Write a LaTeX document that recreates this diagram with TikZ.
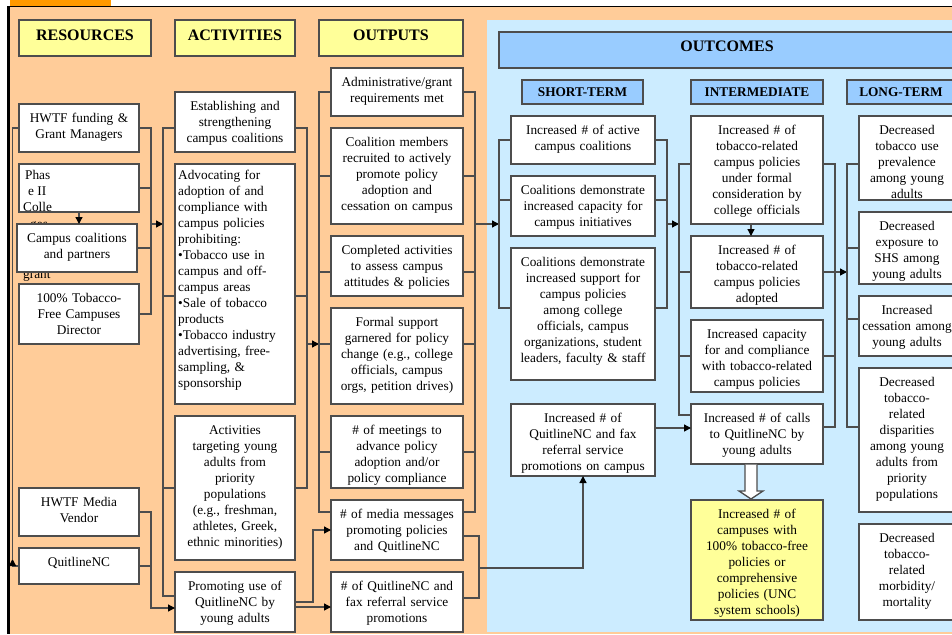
\documentclass[tikz,border=0pt]{standalone}
\usepackage{fontspec}
\setmainfont{Liberation Serif}
\usetikzlibrary{arrows.meta,calc}
\definecolor{peach}{HTML}{FFCC99}
\definecolor{lblue}{HTML}{CCECFF}
\definecolor{yel}{HTML}{FFFF99}
\definecolor{hblue}{HTML}{99CCFF}
\definecolor{orng}{HTML}{FF9900}
\definecolor{lc}{HTML}{4D4D4D}
\newcommand\bx[7][white]{%
 \node[bxst, fill=#1, minimum width={#5-#3}, minimum height={#6-#4}] (#2) at ({(#3+#5)/2},{(#4+#6)/2}) {};
 \node[txst, text width={#5-#3-4}, anchor=north] (#2-t) at ({(#3+#5)/2},{#4+6}) {\rule{0pt}{12pt}#7};}
\begin{document}
\begin{tikzpicture}[x=1pt,y=-1pt,
  bxst/.style={draw=lc, line width=1.3pt, rectangle, inner sep=0pt, outer sep=0pt},
  txst/.style={font=\fontsize{13.3}{16}\selectfont, align=center, inner sep=0pt, text=black},
  hdst/.style={inner sep=0pt, text=black},
  cnst/.style={draw=lc, line width=1.3pt},
  arst/.style={cnst, -{Triangle[length=7pt,width=7pt,color=black]}}]
\useasboundingbox (0,0) rectangle (952,634);
% background
\fill[white] (0,0) rectangle (952,634);
\fill[peach] (10,7) rectangle (952,634);
\fill[orng] (10,0) rectangle (111,6);
\draw[black, line width=1.5pt] (7,6.5) -- (952,6.5);
\draw[black, line width=3pt] (8.5,6) -- (8.5,634);
\fill[lblue] (487,20) rectangle (952,632);

% headers
\node[bxst, fill=yel, minimum width=132, minimum height=36] (resh) at (85,38) {};
\node[hdst, font=\fontsize{16}{18}\selectfont\bfseries] (resh-t) at ($(resh)+(0,-3)$) {RESOURCES};
\node[bxst, fill=yel, minimum width=120, minimum height=36] (acth) at (235,38) {};
\node[hdst, font=\fontsize{16}{18}\selectfont\bfseries] (acth-t) at ($(acth)+(0,-3)$) {ACTIVITIES};
\node[bxst, fill=yel, minimum width=144, minimum height=36] (outh) at (391,38) {};
\node[hdst, font=\fontsize{16}{18}\selectfont\bfseries] (outh-t) at ($(outh)+(0,-3)$) {OUTPUTS};
\node[bxst, fill=hblue, minimum width=456, minimum height=36] (ocmh) at (727,50) {};
\node[hdst, font=\fontsize{16}{18}\selectfont\bfseries] (ocmh-t) at ($(ocmh)+(0,-4)$) {OUTCOMES};
\node[bxst, fill=hblue, minimum width=121, minimum height=24] (sth) at (582.5,92) {};
\node[hdst, font=\fontsize{13.3}{16}\selectfont\bfseries] (sth-t) at (sth) {SHORT-TERM};
\node[bxst, fill=hblue, minimum width=132, minimum height=24] (imh) at (757,92) {};
\node[hdst, font=\fontsize{13.3}{16}\selectfont\bfseries] (imh-t) at (imh) {INTERMEDIATE};
\node[bxst, fill=hblue, minimum width=108, minimum height=24] (lth) at (901,92) {};
\node[hdst, font=\fontsize{13.3}{16}\selectfont\bfseries] (lth-t) at (lth) {LONG-TERM};

% resources
\bx{hwtf}{19}{104}{139}{152}{HWTF funding \&\\Grant Managers}
\node[bxst, fill=white, minimum width=120, minimum height=48] (ph2) at (79,188) {};
\begin{scope}[font=\fontsize{13.3}{16}\selectfont, inner sep=0pt]
\node[anchor=west] (ph2a) at (25,175) {Phas};
\node[anchor=west] (ph2b) at (28,191) {e II};
\node[anchor=west] (ph2c) at (23,207) {Colle};
\node[anchor=west] (ph2d) at (30,227) {ges};
\node[anchor=west] (ph2e) at (23,276) {grant};
\end{scope}
\bx{camp}{17}{224}{137}{272}{Campus coalitions\\and partners}
\bx{dir}{19}{284}{139}{344}{100\% Tobacco-\\Free Campuses\\Director}
\bx{media}{19}{488}{139}{536}{HWTF Media\\Vendor}
\bx{quit}{19}{548}{139}{584}{QuitlineNC}

% activities
\bx{est}{175}{92}{295}{152}{Establishing and\\strengthening\\campus coalitions}
\node[bxst, fill=white, minimum width=120, minimum height=240] (adv) at (235,284) {};
\node[txst, align=left, text width=116, anchor=north west] (adv-t) at (178,167) {\rule{0pt}{12pt}Advocating for\\adoption of and\\compliance with\\campus policies\\prohibiting:\\•Tobacco use in\\campus and off-\\campus areas\\•Sale of tobacco\\products\\•Tobacco industry\\advertising, free-\\sampling, \&\\sponsorship};
\bx{tgt}{175}{416}{295}{560}{Activities\\targeting young\\adults from\\priority\\populations\\ (e.g., freshman,\\athletes, Greek,\\ethnic minorities)}
\bx{prom}{175}{572}{295}{632}{Promoting use of\\QuitlineNC by\\young adults}

% outputs
\bx{o1}{331}{68}{463}{116}{Administrative/grant\\requirements met}
\bx{o2}{331}{128}{463}{224}{Coalition members\\recruited to actively\\promote policy\\adoption and\\cessation on campus}
\bx{o3}{331}{236}{463}{296}{Completed activities\\to assess campus\\attitudes \& policies}
\bx{o4}{331}{308}{463}{404}{Formal support\\garnered for policy\\change (e.g., college\\officials, campus\\orgs, petition drives)}
\bx{o5}{331}{416}{463}{488}{\# of meetings to\\advance policy\\adoption and/or\\policy compliance}
\bx{o6}{331}{500}{463}{560}{\# of media messages\\promoting policies\\and QuitlineNC}
\bx{o7}{331}{572}{463}{632}{\# of QuitlineNC and\\fax referral service\\promotions}

% short-term
\bx{s1}{511}{116}{655}{164}{Increased \# of active\\campus coalitions}
\bx{s2}{511}{176}{655}{236}{Coalitions demonstrate\\increased capacity for\\campus initiatives}
\bx{s3}{511}{248}{655}{380}{Coalitions demonstrate\\increased support for\\campus policies\\among college\\officials, campus\\organizations, student\\leaders, faculty \& staff}
\bx{s4}{511}{404}{655}{476}{Increased \# of\\QuitlineNC and fax\\referral service\\promotions on campus}

% intermediate
\bx{i1}{691}{116}{823}{224}{Increased \# of\\tobacco-related\\campus policies\\under formal\\consideration by\\college officials}
\bx{i2}{691}{236}{823}{308}{Increased \# of\\tobacco-related\\campus policies\\adopted}
\bx{i3}{691}{320}{823}{392}{Increased capacity\\for and compliance\\with tobacco-related\\campus policies}
\bx{i4}{691}{404}{823}{464}{Increased \# of calls\\to QuitlineNC by\\young adults}
\bx[yel]{i5}{691}{500}{823}{620}{Increased \# of\\campuses with\\100\% tobacco-free\\policies or\\comprehensive\\policies (UNC\\system schools)}

% long-term
\bx{l1}{859}{116}{955}{200}{Decreased\\tobacco use\\prevalence\\among young\\adults}
\bx{l2}{859}{212}{955}{284}{Decreased\\exposure to\\SHS among\\young adults}
\bx{l3}{859}{296}{955}{356}{Increased\\cessation among\\young adults}
\bx{l4}{859}{368}{955}{512}{Decreased\\tobacco-\\related\\disparities\\among young\\adults from\\priority\\populations}
\bx{l5}{859}{524}{955}{620}{Decreased\\tobacco-\\related\\morbidity/\\mortality}

% ---- connectors: resources
\draw[cnst] (hwtf.east) -- ++(12,0) coordinate (rbx) |- (dir.east);
\draw[cnst] (ph2.east) -- (ph2.east -| rbx);
\draw[cnst] (camp.east) -- (camp.east -| rbx);
\coordinate (rarr) at (151,224);
\coordinate (aarr) at (163,224);
\draw[arst] (rarr) -- (aarr);
\draw[arst] (ph2.south) -- (ph2.south |- camp.north);
\coordinate (lcor) at (12.5,559);
\draw[arst] (quit.west) -| (lcor);
\draw[cnst] (lcor) |- (hwtf.west);
\draw[arst] (media.east) -- ++(12,0) |- ($(prom.west)+(0,6)$);
\draw[cnst] (quit.east) -- ++(12,0);

% activities brackets
\draw[cnst] ($(est.west)+(0,6)$) -- ++(-12,0) |- ($(prom.west)+(0,-6)$);
\draw[cnst] ($(adv.west)+(0,12)$) -- ++(-12,0);
\draw[cnst] (tgt.west) -- ++(-12,0);
\draw[cnst] ($(est.east)+(0,6)$) -- ++(12,0) |- (tgt.east);
\draw[cnst] ($(adv.east)+(0,12)$) -- ++(12,0);
\coordinate (aro) at (307,344);
\coordinate (ool) at (319,344);
\draw[arst] (aro) -- (ool);
\draw[arst] (prom.east) -- ++(18,0) |- (o6.west);
\draw[arst] ($(prom.east)+(0,5)$) -- ($(o7.west)+(0,5)$);

% outputs brackets
\draw[cnst] (o1.west) -- ++(-12,0) |- ($(o6.west)+(0,-18)$);
\draw[cnst] (o2.west) -- ++(-12,0);
\draw[cnst] ($(o3.west)+(0,6)$) -- ++(-12,0);
\draw[cnst] ($(o4.west)+(0,-12)$) -- ++(-12,0);
\draw[cnst] (o5.west) -- ++(-12,0);
\draw[cnst] (o1.east) -- ++(12,0) |- ($(o6.east)+(0,-18)$);
\draw[cnst] (o2.east) -- ++(12,0);
\draw[cnst] ($(o3.east)+(0,6)$) -- ++(12,0);
\draw[cnst] ($(o4.east)+(0,-12)$) -- ++(12,0);
\draw[cnst] (o5.east) -- ++(12,0);
\coordinate (oro) at (475,224);
\coordinate (stl) at (499,224);
\draw[arst] (oro) -- (stl);
\draw[cnst] ($(o6.east)+(0,6)$) -- ++(16,0) |- ($(o7.east)+(0,-4)$);
\coordinate (mjm) at (479,568);
\draw[arst] (mjm) -| (s4.south);

% short-term brackets
\draw[cnst] (s1.west) -- ++(-12,0) |- ($(s3.west)+(0,-6)$);
\draw[cnst] ($(s2.west)+(0,-6)$) -- ++(-12,0);
\draw[cnst] (s1.east) -- ++(12,0) |- ($(s3.east)+(0,-6)$);
\draw[cnst] ($(s2.east)+(0,-6)$) -- ++(12,0);
\coordinate (sro) at (667,224);
\coordinate (iml) at (679,224);
\draw[arst] (sro) -- (iml);
\draw[arst] ($(s4.east)+(0,-12)$) coordinate (s4o) -- (s4o -| i4.west);

% intermediate brackets
\draw[cnst] ($(i1.west)+(0,-6)$) -- ++(-12,0) |- ($(i4.west)+(0,-19)$);
\draw[cnst] (i2.west) -- ++(-12,0);
\draw[cnst] (i3.west) -- ++(-12,0);
\draw[cnst] ($(i1.east)+(0,-6)$) -- ++(12,0) |- ($(i4.east)+(0,-7)$);
\draw[cnst] (i2.east) -- ++(12,0);
\draw[cnst] (i3.east) -- ++(12,0);
\coordinate (iro) at (835,272);
\coordinate (ltl) at (847,272);
\draw[arst] (iro) -- (ltl);
\draw[arst] ($(i1.south)+(-6,0)$) -- ($(i2.north)+(-6,0)$);
\draw[draw=lc, line width=1.3pt, fill=white, line join=miter] (745,464.6) -- (745,491) -- (739,491) -- (751,499) -- (763,491) -- (757,491) -- (757,464.6);

% long-term bracket
\draw[cnst] ($(l1.west)+(0,6)$) -- ++(-12,0) |- ($(l4.west)+(0,-13)$);
\draw[cnst] (l2.west) -- ++(-12,0);
\draw[cnst] ($(l3.west)+(0,-7)$) -- ++(-12,0);
\end{tikzpicture}
\end{document}
